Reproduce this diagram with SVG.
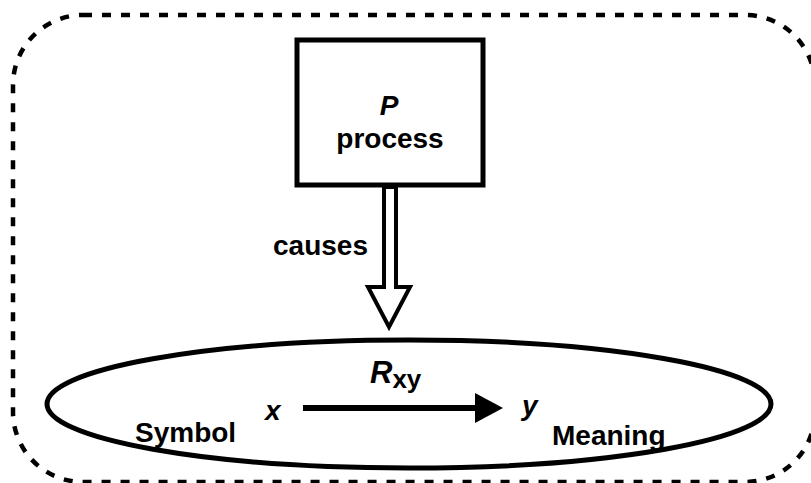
<svg xmlns="http://www.w3.org/2000/svg" width="811" height="483" viewBox="0 0 811 483">
  <style>
    .lbl { font-family: "Liberation Sans", Arial, Helvetica, sans-serif; font-weight: bold; font-size: 28px; fill: #000; }
    .it { font-style: italic; }
    .big { font-size: 31px; }
    .sub { font-size: 26px; font-style: normal; }
    .frame { fill: none; stroke: #000; stroke-width: 4.5; stroke-dasharray: 9 10; }
    .solid { fill: #fff; stroke: #000; stroke-width: 5; }
  </style>
  <defs>
    <marker id="head" markerUnits="userSpaceOnUse" markerWidth="28" markerHeight="30" refX="0" refY="15" orient="auto">
      <path d="M0,0 L28,15 L0,30 Z" fill="#000"/>
    </marker>
  </defs>
  <rect width="811" height="483" fill="#fff"/>

  <!-- dashed boundary around the whole system -->
  <rect id="boundary" class="frame" x="13" y="15" width="802" height="467" rx="70" ry="70"/>

  <!-- process box -->
  <g id="process">
    <rect class="solid" x="297" y="40" width="186" height="145"/>
    <text class="lbl it" x="389" y="115" text-anchor="middle">P</text>
    <text class="lbl" x="390" y="148" text-anchor="middle">process</text>
  </g>

  <!-- relation ellipse -->
  <g id="relation">
    <ellipse class="solid" cx="409" cy="404" rx="362" ry="64"/>
    <text class="lbl it" x="265" y="420">x</text>
    <text class="lbl it" x="522" y="415">y</text>
    <text class="lbl" x="135" y="442">Symbol</text>
    <text class="lbl" x="552" y="445">Meaning</text>
    <text class="lbl it big" x="370" y="383">R<tspan class="sub" dy="5">xy</tspan></text>
  </g>

  <g id="connectors">
    <!-- hollow "causes" arrow -->
    <polygon points="384,187 384,287 368,287 389,327 410,287 396,287 396,187" fill="#fff" stroke="#000" stroke-width="4" stroke-linejoin="miter"/>
    <text class="lbl" x="368" y="255" text-anchor="end">causes</text>
    <!-- x to y arrow -->
    <line x1="303" y1="408" x2="475" y2="408" stroke="#000" stroke-width="6" marker-end="url(#head)"/>
  </g>
</svg>
